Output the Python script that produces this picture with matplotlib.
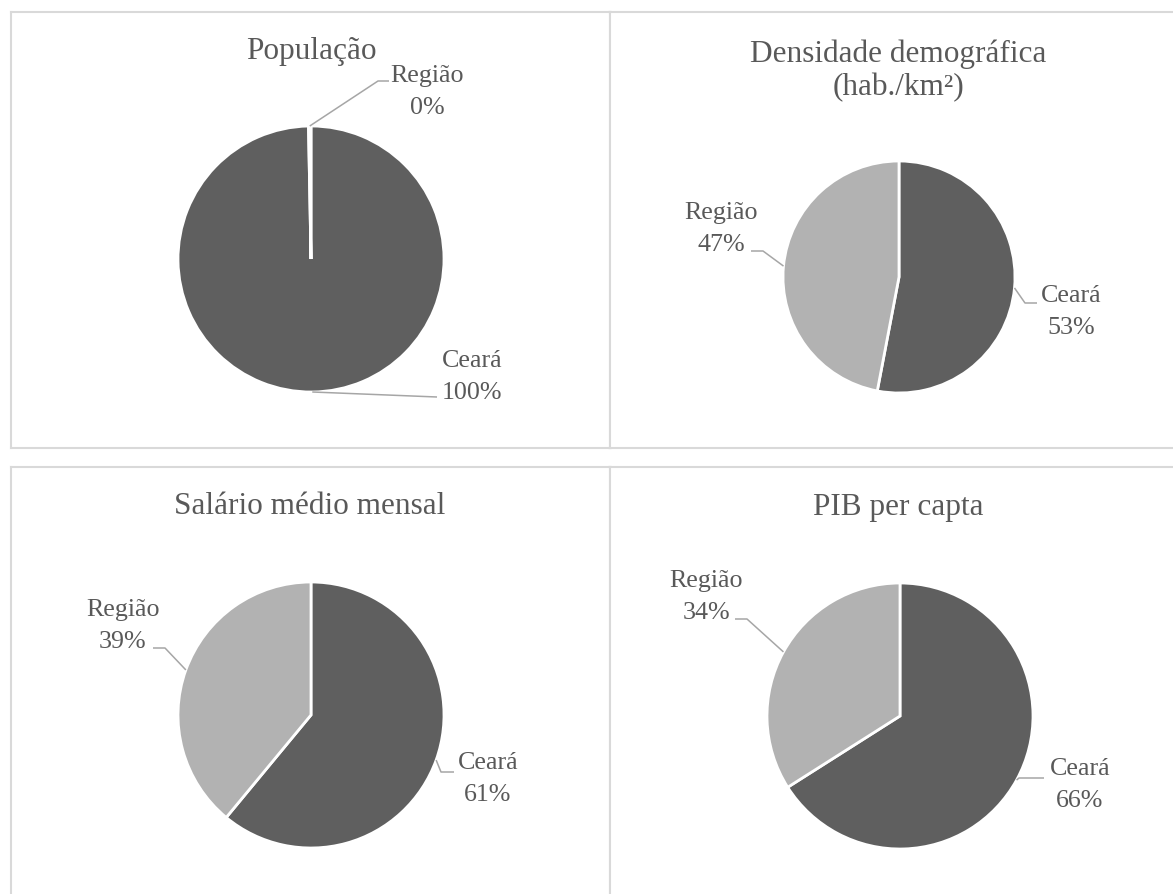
import numpy as np
import matplotlib
matplotlib.use("Agg")
import matplotlib.pyplot as plt

# Indicator shares: Ceará vs. Região (percent of the combined total)
titles = ["População", "Densidade demográfica\n(hab./km²)",
          "Salário médio mensal", "PIB per capta"]
categories = ["Ceará", "Região"]
ceara_share = [99.7, 53, 61, 66]
regiao_share = [0.3, 47, 39, 34]

colors = ["#5f5f5f", "#b2b2b2"]
text_color = "#595959"
leader_color = "#a6a6a6"
border_color = "#d9d9d9"
serif = ["Liberation Serif", "DejaVu Serif"]

W, H = 1173, 894
fig = plt.figure(figsize=(W / 100, H / 100), dpi=100)
fig.patch.set_facecolor("white")

# Panel boxes in pixel coordinates (x0, y0, x1, y1), y measured downward
panels = [(11, 12, 610, 448), (610, 12, 1185, 448),
          (11, 467, 610, 905), (610, 467, 1185, 905)]
# Pie centres / radii and title centres (pixels, y downward)
pie_geom = [((311, 259), 133), ((899, 277), 116),
            ((311, 715), 133), ((900, 716), 133)]
title_pos = [(311, 52), (898, 71), (310, 507), (898, 507)]
# Label layout per pie: for each category -> (label centre, elbow point, end x)
label_layout = [
    {"Ceará": ((472, 377), (437, 397), 437), "Região": ((427, 92), (378, 81), 389)},
    {"Ceará": ((1071, 312), (1025, 303), 1037), "Região": ((721, 229), (763, 251), 751)},
    {"Ceará": ((488, 779), (441, 772), 454), "Região": ((123, 626), (165, 648), 153)},
    {"Ceará": ((1080, 785), (1019, 778), 1044), "Região": ((706, 597), (747, 619), 735)},
]


def yup(y):
    return H - y


for i, (x0, y0, x1, y1) in enumerate(panels):
    ax = fig.add_axes([x0 / W, (H - y1) / H, (x1 - x0) / W, (y1 - y0) / H])
    vals = [ceara_share[i], regiao_share[i]]
    (cx, cy), R = pie_geom[i]
    wedges, _ = ax.pie(vals, colors=colors, startangle=90, counterclock=False,
                       center=(cx, yup(cy)), radius=R, frame=True,
                       wedgeprops=dict(edgecolor="white", linewidth=2))
    ax.set_xlim(x0, x1)
    ax.set_ylim(H - y1, H - y0)
    ax.set_aspect("auto")
    ax.set_xticks([])
    ax.set_yticks([])
    ax.set_frame_on(True)
    for s in ax.spines.values():
        s.set_color(border_color)
        s.set_linewidth(1.5)

    tx, ty = title_pos[i]
    ax.text(tx, yup(ty), titles[i], ha="center", va="center", fontsize=22.5,
            color=text_color, family=serif, linespacing=1.2)

    total = sum(vals)
    for w, cat, v in zip(wedges, categories, vals):
        mid = np.deg2rad((w.theta1 + w.theta2) / 2)
        axp = cx + R * np.cos(mid)
        ayp = yup(cy) + R * np.sin(mid)
        (lx, ly), (ex, ey), hx = label_layout[i][cat]
        ax.plot([axp, ex, hx], [ayp, yup(ey), yup(ey)], color=leader_color,
                lw=1.1, solid_capstyle="butt", zorder=1)
        ax.text(lx, yup(ly), f"{cat}\n{round(v / total * 100):.0f}%",
                ha="center", va="center", fontsize=18.7, color=text_color,
                family=serif, linespacing=1.6)

fig.savefig("out.png", dpi=100, facecolor="white")
